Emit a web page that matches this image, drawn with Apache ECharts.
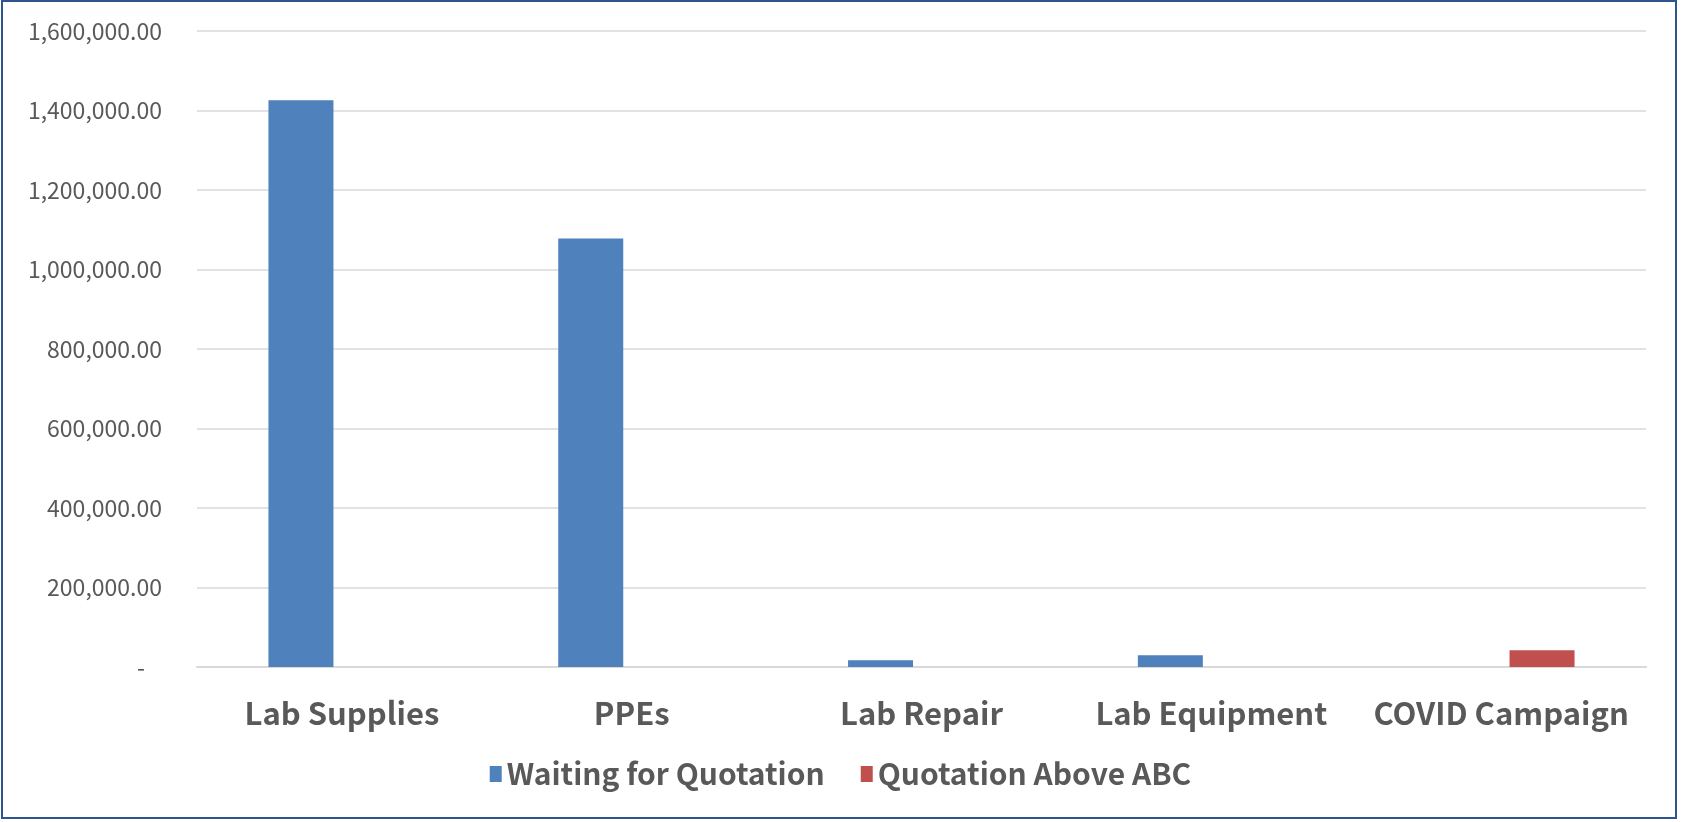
<!DOCTYPE html>
<html>
<head>
<meta charset="utf-8">
<script src="https://cdn.jsdelivr.net/npm/echarts@6/dist/echarts.min.js"></script>
<style>
  html, body { margin: 0; padding: 0; background: #fff; }
  #chart { width: 1681px; height: 822px; }
</style>
</head>
<body>
<div id="chart"></div>
<script>
const categories = ['Lab Supplies', 'PPEs', 'Lab Repair', 'Lab Equipment', 'COVID Campaign'];
const waitingForQuotation = [1426000, 1078000, 16800, 29400, null];
const quotationAboveABC = [null, null, null, null, 42000];
const seriesNames = ['Waiting for Quotation', 'Quotation Above ABC'];

const FONT = '"Noto Sans CJK KR", "Noto Sans", sans-serif';
const TEXT_COLOR = '#595959';

const chart = echarts.init(document.getElementById('chart'));

const fmt = (v) => {
  if (v === 0) return '{z|-}';
  return v.toLocaleString('en-US', { minimumFractionDigits: 2, maximumFractionDigits: 2 });
};

chart.setOption({
  animation: false,
  graphic: [
    {
      type: 'rect',
      shape: { x: 2, y: 1, width: 1674, height: 817 },
      style: { fill: 'none', stroke: '#2E5590', lineWidth: 2 },
      silent: true,
    },
  ],
  grid: { left: 197, right: 35, top: 31, bottom: 155 },
  legend: {
    data: seriesNames,
    bottom: 28,
    left: 'center',
    itemWidth: 12,
    itemHeight: 16,
    itemGap: 36,
    icon: 'rect',
    textStyle: { fontFamily: FONT, fontSize: 30, fontWeight: 'bold', color: TEXT_COLOR },
  },
  xAxis: {
    type: 'category',
    data: categories,
    axisTick: { show: false },
    axisLine: { lineStyle: { color: '#D9D9D9', width: 2 } },
    axisLabel: {
      interval: 0,
      fontFamily: FONT,
      fontSize: 31,
      fontWeight: 'bold',
      color: TEXT_COLOR,
      margin: 31,
    },
  },
  yAxis: {
    type: 'value',
    min: 0,
    max: 1600000,
    interval: 200000,
    axisLine: { show: false },
    axisTick: { show: false },
    splitLine: { lineStyle: { color: '#D9D9D9', width: 1.5 } },
    axisLabel: {
      fontFamily: FONT,
      fontSize: 23,
      color: TEXT_COLOR,
      margin: 35,
      formatter: fmt,
      rich: { z: { fontFamily: FONT, fontSize: 23, color: TEXT_COLOR, padding: [0, 17, 0, 0] } },
    },
  },
  series: [
    {
      name: seriesNames[0],
      type: 'bar',
      data: waitingForQuotation,
      barWidth: 65,
      barGap: '26%',
      itemStyle: { color: '#4F81BD' },
    },
    {
      name: seriesNames[1],
      type: 'bar',
      data: quotationAboveABC,
      barWidth: 65,
      itemStyle: { color: '#C0504D' },
    },
  ],
});
</script>
</body>
</html>
